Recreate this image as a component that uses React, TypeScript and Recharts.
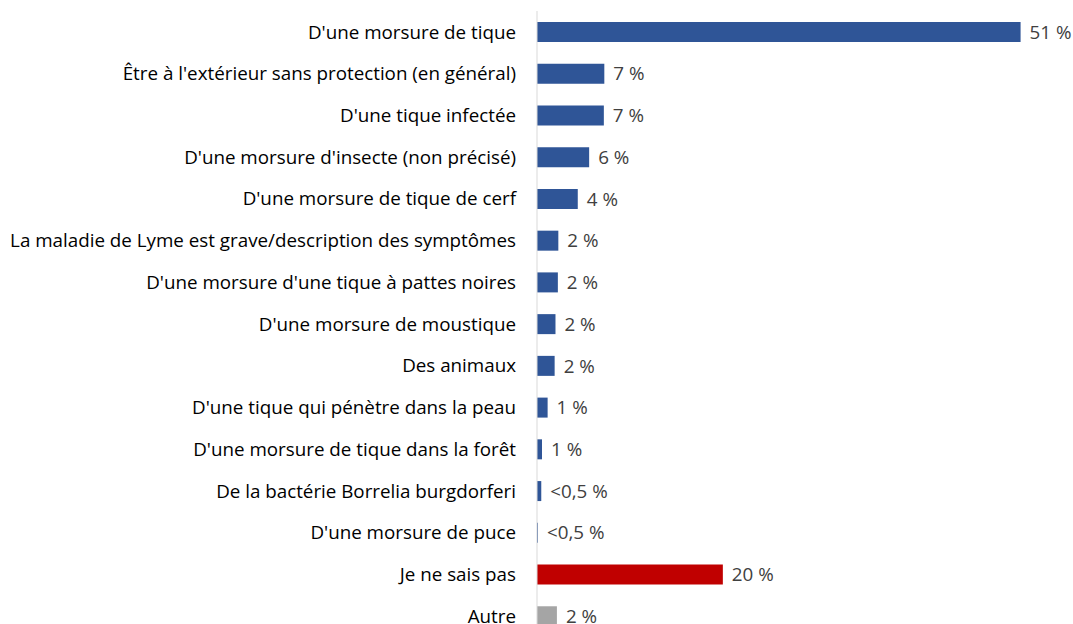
import { BarChart, Bar, XAxis, YAxis, Cell, LabelList } from 'recharts'

const categories = [
  "D'une morsure de tique",
  "Être à l'extérieur sans protection (en général)",
  "D'une tique infectée",
  "D'une morsure d'insecte (non précisé)",
  "D'une morsure de tique de cerf",
  'La maladie de Lyme est grave/description des symptômes',
  "D'une morsure d'une tique à pattes noires ",
  "D'une morsure de moustique",
  'Des animaux',
  "D'une tique qui pénètre dans la peau",
  "D'une morsure de tique dans la forêt",
  'De la bactérie Borrelia burgdorferi',
  "D'une morsure de puce",
  'Je ne sais pas',
  'Autre',
]
const values = [51, 7.1, 7.05, 5.5, 4.3, 2.25, 2.2, 1.95, 1.86, 1.12, 0.53, 0.45, 0.1, 19.6, 2.1]
const valueLabels = ['51 %', '7 %', '7 %', '6 %', '4 %', '2 %', '2 %', '2 %', '2 %', '1 %', '1 %', '<0,5 %', '<0,5 %', '20 %', '2 %']

const data = categories.map((name, i) => ({ name, value: values[i], label: valueLabels[i] }))

const barColor = (name: string) => {
  if (name === 'Je ne sais pas') return '#C00000'
  if (name === 'Autre') return '#A5A5A5'
  return '#2F5597'
}

export default function App() {
  return (
    <div style={{ position: 'absolute', top: 0, left: 0, fontFamily: '"Open Sans", sans-serif' }}>
      <BarChart
        width={1073}
        height={660}
        data={data}
        layout="vertical"
        margin={{ top: 11, right: 5, left: 0, bottom: 23 }}
        barSize={20}
      >
        <XAxis type="number" domain={[0, 56]} hide />
        <YAxis
          type="category"
          dataKey="name"
          width={537}
          interval={0}
          tickLine={false}
          tickSize={0}
          tickMargin={21}
          axisLine={{ stroke: '#D9D9D9' }}
          tick={{ fill: '#000', fontSize: 18.8 }}
        />
        <Bar dataKey="value" isAnimationActive={false}>
          {data.map((d, i) => (
            <Cell key={i} fill={barColor(d.name)} />
          ))}
          <LabelList dataKey="label" position="right" offset={9} fill="#404040" fontSize={18.8} />
        </Bar>
      </BarChart>
    </div>
  )
}
